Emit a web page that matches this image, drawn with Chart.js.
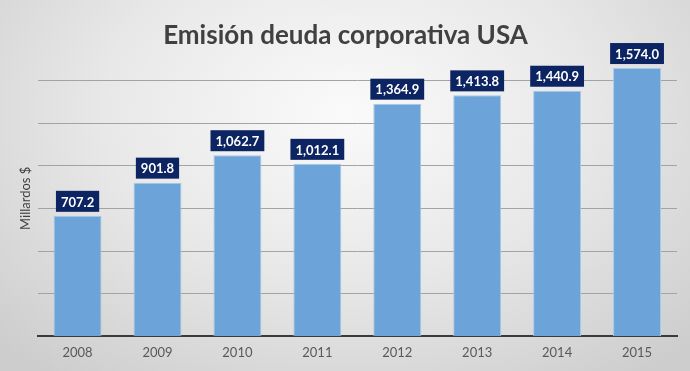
<!DOCTYPE html>
<html>
<head>
<meta charset="utf-8">
<script src="https://cdn.jsdelivr.net/npm/chart.js@4"></script>
<style>
  body { margin: 0; }
  #wrap {
    width: 690px; height: 371px; position: relative;
    background: radial-gradient(ellipse 70% 90% at 50% 30%, #fafafa 0%, #e8e8e8 50%, #cdcdcd 100%);
  }
</style>
</head>
<body>
<div id="wrap"><canvas id="debtChart" width="690" height="371"></canvas></div>
<script>
var years = ['2008', '2009', '2010', '2011', '2012', '2013', '2014', '2015'];
var emission = [707.2, 901.8, 1062.7, 1012.1, 1364.9, 1413.8, 1440.9, 1574.0];
var gridStep = 250;

// etiquetas de valor en cajas azul oscuro
var boxLabels = {
    id: 'boxLabels',
    afterDatasetsDraw: function(chart) {
        var c = chart.ctx;
        var meta = chart.getDatasetMeta(0);
        c.save();
        c.font = 'bold 13px Lato';
        c.textAlign = 'center';
        c.textBaseline = 'middle';
        meta.data.forEach(function(bar, i) {
            var txt = emission[i].toLocaleString('en-US', { minimumFractionDigits: 1, maximumFractionDigits: 1 });
            var w = c.measureText(txt).width + 10;
            var h = 21;
            var bottom = bar.y - 4;
            c.fillStyle = '#0c2461';
            c.fillRect(bar.x - w / 2, bottom - h, w, h);
            c.fillStyle = '#ffffff';
            c.fillText(txt, bar.x, bottom - h / 2 + 1);
        });
        c.restore();
    }
};

var ctx = document.getElementById('debtChart').getContext('2d');
var debtChart = new Chart(ctx, {
    type: 'bar',
    data: {
        labels: years,
        datasets: [{
            data: emission,
            backgroundColor: '#6ca3d8',
            borderColor: '#a7c8ea',
            borderWidth: 1,
            categoryPercentage: 1,
            barPercentage: 0.6
        }]
    },
    options: {
        responsive: false,
        animation: false,
        layout: { padding: { left: 14, right: 13, top: 0, bottom: 1 } },
        plugins: {
            legend: { display: false },
            tooltip: { enabled: false },
            title: {
                display: true,
                text: 'Emisión deuda corporativa USA',
                color: '#404040',
                font: { family: 'Lato', size: 26, weight: 'bold' },
                padding: { top: 20, bottom: 9 }
            }
        },
        scales: {
            x: {
                grid: { display: false, drawTicks: false },
                border: { display: true, color: '#3a3a3a', width: 2 },
                ticks: { color: '#595959', font: { family: 'Lato', size: 13 }, padding: 9 }
            },
            y: {
                min: 0,
                max: 1620,
                border: { display: false },
                grid: {
                    drawTicks: false,
                    color: function(c) {
                        return (c.tick && c.tick.value % gridStep === 0) ? '#a3a3a3' : 'rgba(0,0,0,0)';
                    }
                },
                ticks: { display: false, stepSize: gridStep },
                title: {
                    display: true,
                    text: 'Millardos $',
                    color: '#404040',
                    font: { family: 'Lato', size: 13 },
                    padding: 4
                }
            }
        }
    },
    plugins: [boxLabels]
});
</script>
</body>
</html>
